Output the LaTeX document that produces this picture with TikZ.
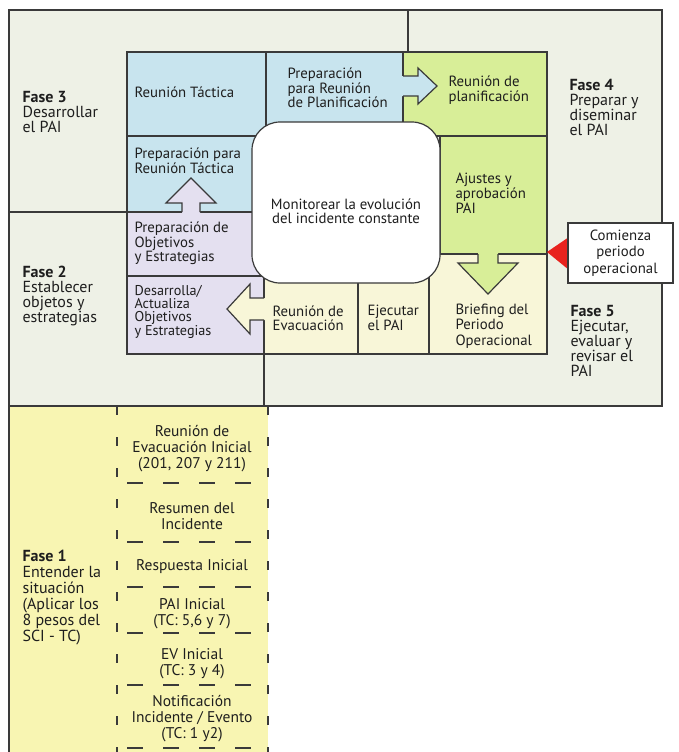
\documentclass[tikz,border=0pt]{standalone}
\usepackage{fontspec}
\setmainfont{PT Sans}
\definecolor{bgc}{HTML}{EEF1E6}
\definecolor{bluec}{HTML}{C8E4EE}
\definecolor{greenc}{HTML}{D8EE98}
\definecolor{purc}{HTML}{E4E0F0}
\definecolor{lyel}{HTML}{F8F6D8}
\definecolor{yelc}{HTML}{F8F5B2}
\definecolor{redc}{HTML}{E8231E}
\definecolor{linec}{HTML}{3A3A3A}
\definecolor{txtc}{HTML}{1E1E1E}
\begin{document}
\begin{tikzpicture}[x=1pt,y=-1pt,line width=1.2pt,
  cell/.style={draw=linec,line width=1.2pt},
  arrowline/.style={draw=linec,line width=1.2pt,line join=miter},
  celltxt/.style={font=\fontsize{14.8}{13}\selectfont,align=left,inner sep=0pt,anchor=west,text=txtc},
  fasetxt/.style={font=\fontsize{16}{15}\selectfont,align=left,inner sep=0pt,anchor=west,text=txtc},
  coltxt/.style={font=\fontsize{15.5}{16}\selectfont,align=center,inner sep=0pt,text=txtc},
  midtxt/.style={font=\fontsize{14.8}{14}\selectfont,align=center,inner sep=0pt,text=txtc},
  vdash/.style={draw=linec,line width=1.2pt,dash pattern=on 9pt off 22pt},
  hdash/.style={draw=linec,line width=1.2pt,dash pattern=on 16pt off 20pt}]
\path[use as bounding box] (0,0) rectangle (678,752);
% Fase 1 area
\fill[yelc] (9,406) rectangle (268,752);
\draw[linec] (9,406) -- (9,752);
\draw[vdash] (117,406) -- (117,752);
\draw[vdash] (268,406) -- (268,752);
\foreach \yy in {483,542,587,633,685,748} {\draw[hdash] (127,\yy) -- (252,\yy);}
% upper frame
\filldraw[cell,fill=bgc] (9,10) rectangle (662,406);
\draw[linec] (408,10) -- (408,52);
\draw[linec] (9,212) -- (127,212);
\draw[linec] (264,354) -- (264,406);
% cells
\filldraw[cell,fill=bluec] (127,52) rectangle (266,136);
\filldraw[cell,fill=bluec] (266,52) rectangle (403,136);
\filldraw[cell,fill=greenc] (403,52) rectangle (547,136);
\filldraw[cell,fill=bluec] (127,136) rectangle (264,212);
\filldraw[cell,fill=purc] (127,212) rectangle (264,276);
\filldraw[cell,fill=purc] (127,276) rectangle (264,354);
\filldraw[cell,fill=greenc] (440,136) rectangle (547,254);
\filldraw[cell,fill=lyel] (264,254) rectangle (358,354);
\filldraw[cell,fill=lyel] (358,254) rectangle (429,354);
\filldraw[cell,fill=lyel] (429,254) rectangle (547,354);
% block arrows
\fill[bluec] (400,76) -- (418,76) -- (418,68) -- (437,86) -- (418,104) -- (418,96) -- (400,96) -- cycle;
\draw[arrowline] (403,76) -- (418,76) -- (418,68) -- (437,86) -- (418,104) -- (418,96) -- (403,96);
\fill[purc] (182,215) -- (182,203) -- (166,203) -- (191,178) -- (216,203) -- (200,203) -- (200,215) -- cycle;
\draw[arrowline] (182,212) -- (182,203) -- (166,203) -- (191,178) -- (216,203) -- (200,203) -- (200,212);
\fill[lyel] (267,298) -- (250,298) -- (250,284) -- (227,309) -- (250,334) -- (250,320) -- (267,320) -- cycle;
\draw[arrowline] (264,298) -- (250,298) -- (250,284) -- (227,309) -- (250,334) -- (250,320) -- (264,320);
\fill[greenc] (478,251) -- (478,263) -- (458,263) -- (488,294) -- (518,263) -- (498,263) -- (498,251) -- cycle;
\draw[arrowline] (478,254) -- (478,263) -- (458,263) -- (488,294) -- (518,263) -- (498,263) -- (498,254);
% centre box
\filldraw[cell,fill=white,rounded corners=28pt] (252,122) rectangle (440,283);
% callout
\fill[redc] (547,252) -- (569,237) -- (569,270) -- cycle;
\filldraw[cell,fill=white] (568,223) rectangle (673,283);
% texts
\node[fasetxt] (f3) at (22,111.5) {\textbf{Fase 3}\\Desarrollar\\el PAI};
\node[fasetxt] (f2) at (22,295.5) {\textbf{Fase 2}\\Establecer\\objetos y\\estrategias};
\node[fasetxt] (f4) at (569,107) {\textbf{Fase 4}\\Preparar y\\diseminar\\el PAI};
\node[fasetxt] (f5) at (570,341) {\textbf{Fase 5}\\Ejecutar,\\evaluar y\\revisar el\\PAI};
\node[fasetxt,font=\fontsize{16}{16}\selectfont] (f1) at (22,598) {\textbf{Fase 1}\\Entender la\\situación\\(Aplicar los\\8 pesos del\\SCI - TC)};
\node[celltxt] (rt) at (134,92) {Reunión Táctica};
\node[celltxt] (prt) at (134,160.5) {Preparación para\\Reunión Táctica};
\node[celltxt,font=\fontsize{14.8}{12.8}\selectfont] (prp) at (287,88) {Preparación\\para Reunión\\de Planificación};
\node[celltxt,font=\fontsize{14.8}{15}\selectfont] (rp) at (448,90) {Reunión de\\planificación};
\node[celltxt,font=\fontsize{14.8}{15}\selectfont] (ap) at (455,193) {Ajustes y\\aprobación\\PAI};
\node[midtxt] (mon) at (346,211.5) {Monitorear la evolución\\del incidente constante};
\node[celltxt,font=\fontsize{14.8}{12.8}\selectfont] (poe) at (134,243.5) {Preparación de\\Objetivos\\y Estrategias};
\node[celltxt,font=\fontsize{14.2}{12.8}\selectfont] (dae) at (134,312) {Desarrolla/\\Actualiza\\Objetivos\\y Estrategias};
\node[celltxt,font=\fontsize{14.8}{14}\selectfont] (rev) at (272,318) {Reunión de\\Evacuación};
\node[celltxt,font=\fontsize{14.8}{15}\selectfont] (eje) at (367,318) {Ejecutar\\el PAI};
\node[celltxt,font=\fontsize{14.8}{15.5}\selectfont] (bri) at (455,326) {Briefing del\\Periodo\\Operacional};
\node[midtxt,font=\fontsize{14.8}{16.5}\selectfont] (com) at (620.5,253) {Comienza\\periodo\\operacional};
\node[coltxt] (c1) at (192,449) {Reunión de\\Evacuación Inicial\\(201, 207 y 211)};
\node[coltxt] (c2) at (192,516.5) {Resumen del\\Incidente};
\node[coltxt] (c3) at (192,567) {Respuesta Inicial};
\node[coltxt] (c4) at (192,614) {PAI Inicial\\(TC: 5,6 y 7)};
\node[coltxt] (c5) at (192,664) {EV Inicial\\(TC: 3 y 4)};
\node[coltxt] (c6) at (192,719) {Notificación\\Incidente / Evento\\(TC: 1 y2)};
\end{tikzpicture}
\end{document}
